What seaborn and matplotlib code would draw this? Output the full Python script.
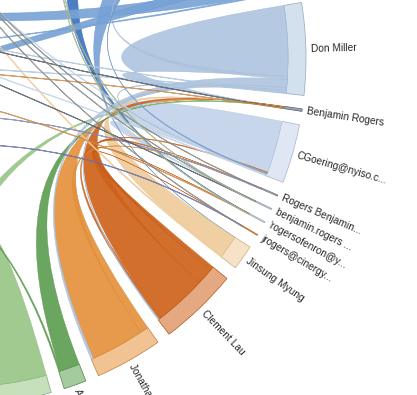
import numpy as np
import matplotlib
matplotlib.use("Agg")
import matplotlib.pyplot as plt
import matplotlib.colors as mcolors
from matplotlib.path import Path
from matplotlib.patches import PathPatch, Wedge
import seaborn as sns

# groups, clockwise from "Don Miller"; most of the circle lies outside the crop
group_names = [
    "Don Miller", "Benjamin Rogers", "CGoering@nyiso.c...", "Rogers Benjamin...",
    "benjamin.rogers ...", "'rogersofenron@y...", "jrogers@cinergy...",
    "Jinsung Myung", "Clement Lau", "Jonathan McKay", "Andy Zipper",
    "Group 12", "Group 13", "Group 14", "Group 15", "Group 16", "Group 17",
    "Group 18", "Group 19", "Group 20", "Group 21", "Group 22",
]
group_colors = [
    "#afc6e0", "#56627d", "#c3d3ea", "#7c8794", "#a9b6c6", "#b8c4d2", "#d9782e",
    "#efcb9a", "#cf631b", "#e5923b", "#5e9f52",
    "#98c686", "#c0ddb4", "#6a6ea8", "#8088b0", "#c98a4b", "#555d6a",
    "#9a9a9a", "#858c86", "#a3b497", "#3f73bd", "#78a3d6",
]

# e-mail flows: one entry per pair, count seen from each side
link_src = [
    "Group 12", "Group 13", "Group 14", "Group 15", "Group 16", "Group 17",
    "Group 18", "Group 19", "Group 20",
    "Group 22", "Group 21", "Group 21",
    "Jonathan McKay", "Jonathan McKay", "Clement Lau", "Clement Lau", "Clement Lau", "Clement Lau",
    "Don Miller", "Don Miller", "Don Miller", "CGoering@nyiso.c...", "CGoering@nyiso.c...",
    "Don Miller", "Don Miller", "Group 22", "Group 22", "Group 22", "Group 22", "Group 22",
    "Don Miller", "Don Miller", "CGoering@nyiso.c...", "CGoering@nyiso.c...",
    "Jinsung Myung", "Jinsung Myung", "Andy Zipper", "Andy Zipper",
    "Group 12", "Group 12", "Group 12", "Group 12",
    "Group 17", "Group 16", "Group 19", "Group 15", "Group 19", "Group 17", "Group 20",
    "Group 16", "Group 20", "Group 14", "Group 19",
]
link_dst = [
    "Group 12", "Group 13", "Group 14", "Group 15", "Group 16", "Group 17",
    "Group 18", "Group 19", "Group 20",
    "Jinsung Myung", "'rogersofenron@y...", "Group 21",
    "Rogers Benjamin...", "Benjamin Rogers", "jrogers@cinergy...", "'rogersofenron@y...",
    "Rogers Benjamin...", "Benjamin Rogers",
    "Benjamin Rogers", "Group 22", "Jonathan McKay", "benjamin.rogers ...", "Clement Lau",
    "Clement Lau", "CGoering@nyiso.c...", "CGoering@nyiso.c...", "Group 20", "Group 15",
    "Group 17", "Group 16",
    "Group 17", "Group 16", "Group 17", "Group 19",
    "Benjamin Rogers", "Group 19", "Benjamin Rogers", "Group 14",
    "Benjamin Rogers", "Group 19", "Group 14", "Group 17",
    "Benjamin Rogers", "Benjamin Rogers", "Rogers Benjamin...", "Rogers Benjamin...",
    "benjamin.rogers ...", "benjamin.rogers ...", "benjamin.rogers ...",
    "'rogersofenron@y...", "'rogersofenron@y...", "jrogers@cinergy...", "jrogers@cinergy...",
]
link_src_n = [
    400, 400, 314, 242, 272, 260, 490, 310, 771,
    140, 150, 266,
    30, 188, 10, 6, 56, 180,
    248, 10, 30, 184, 4,
    10, 6, 6, 260, 40, 56, 4,
    2, 2, 2, 2,
    79, 4, 70, 6,
    60, 60, 50, 30,
    2, 2, 2, 2, 2, 2, 2,
    2, 2, 2, 2,
]
link_dst_n = [
    0, 0, 0, 0, 0, 0, 0, 0, 0,
    1, 1, 0,
    1, 1, 1, 1, 1, 1,
    1, 4, 8, 1, 10,
    4, 2, 4, 200, 36, 52, 2,
    2, 2, 2, 2,
    1, 2, 1, 2,
    1, 40, 40, 40,
    1, 1, 1, 1, 1, 1, 1,
    1, 1, 1, 1,
]

# layout (pixel space of the crop, angles clockwise from +x)
CX, CY = -41.0, 58.0
R_IN, R_OUT = 329.0, 347.0
PAD = 2.25
START = -9.2


def darker(c, f=0.8):
    r, g, b = mcolors.to_rgb(c)
    return (r * f, g * f, b * f)


def lighter(c, f=0.5):
    r, g, b = mcolors.to_rgb(c)
    return (r + (1 - r) * f, g + (1 - g) * f, b + (1 - b) * f)


def chord_layout():
    n = len(group_names)
    idx = {name: i for i, name in enumerate(group_names)}
    parts = [[] for _ in range(n)]
    for k, (a, b, na, nb) in enumerate(zip(link_src, link_dst, link_src_n, link_dst_n)):
        parts[idx[a]].append((k, 0, na))
        if a != b:
            parts[idx[b]].append((k, 1, nb))
    totals = np.array([sum(p[2] for p in ps) for ps in parts], dtype=float)
    scale = (360.0 - n * PAD) / totals.sum()
    groups, spans = [], {}
    x = START
    for i in range(n):
        x0 = x
        for k, side, v in parts[i]:
            spans[(k, side)] = (x, x + v * scale)
            x += v * scale
        groups.append((x0, x))
        x += PAD
    return groups, spans


def pt(a, r=R_IN):
    t = np.radians(a)
    return (CX + r * np.cos(t), CY + r * np.sin(t))


def arc_pts(a0, a1):
    m = max(2, int(abs(a1 - a0) / 0.3) + 2)
    return [pt(a) for a in np.linspace(a0, a1, m)]


def ribbon(s, t):
    verts = arc_pts(*s)
    codes = [Path.MOVETO] + [Path.LINETO] * (len(verts) - 1)
    if s != t:
        verts += [(CX, CY), pt(t[0])]
        codes += [Path.CURVE3, Path.CURVE3]
        tv = arc_pts(*t)[1:]
        verts += tv
        codes += [Path.LINETO] * len(tv)
    verts += [(CX, CY), pt(s[0]), pt(s[0])]
    codes += [Path.CURVE3, Path.CURVE3, Path.CLOSEPOLY]
    return Path(verts, codes)


sns.set_theme(style="white")
plt.rcParams["font.family"] = ["Liberation Sans", "DejaVu Sans"]
palette = sns.color_palette(group_colors)

fig = plt.figure(figsize=(4.17, 3.95), dpi=100)
ax = fig.add_axes([0, 0, 1, 1])
ax.set_xlim(0, 417)
ax.set_ylim(395, 0)
ax.axis("off")

groups, spans = chord_layout()
idx = {name: i for i, name in enumerate(group_names)}

# group arcs and their labels
for i, (a0, a1) in enumerate(groups):
    col = palette[i]
    ax.add_patch(Wedge((CX, CY), R_OUT, a0, a1, width=R_OUT - R_IN,
                       facecolor=lighter(col, 0.45), edgecolor=darker(col, 0.85),
                       linewidth=0.5))
    mid = np.radians((a0 + a1) / 2)
    lx, ly = CX + (R_OUT + 5) * np.cos(mid), CY + (R_OUT + 5) * np.sin(mid)
    ax.text(lx, ly, group_names[i], rotation=-np.degrees(mid), rotation_mode="anchor",
            ha="left", va="center", fontsize=7.3, color="#262626")

# ribbons, wide ones first so the thin lines sit on top
order = sorted(range(len(link_src)), key=lambda k: -max(link_src_n[k], link_dst_n[k]))
for k in order:
    a, b = link_src[k], link_dst[k]
    s = spans[(k, 0)]
    t = s if a == b else spans[(k, 1)]
    big = a if link_src_n[k] >= link_dst_n[k] else b
    col = palette[idx[big]]
    thin = max(link_src_n[k], link_dst_n[k]) <= 4
    if thin:
        ax.add_patch(PathPatch(ribbon(s, t), facecolor=col, alpha=0.8,
                               edgecolor=col, linewidth=0.7))
    else:
        ax.add_patch(PathPatch(ribbon(s, t), facecolor=col, alpha=0.92,
                               edgecolor=darker(col, 0.93), linewidth=0.3))

fig.savefig("out.png", dpi=100)
